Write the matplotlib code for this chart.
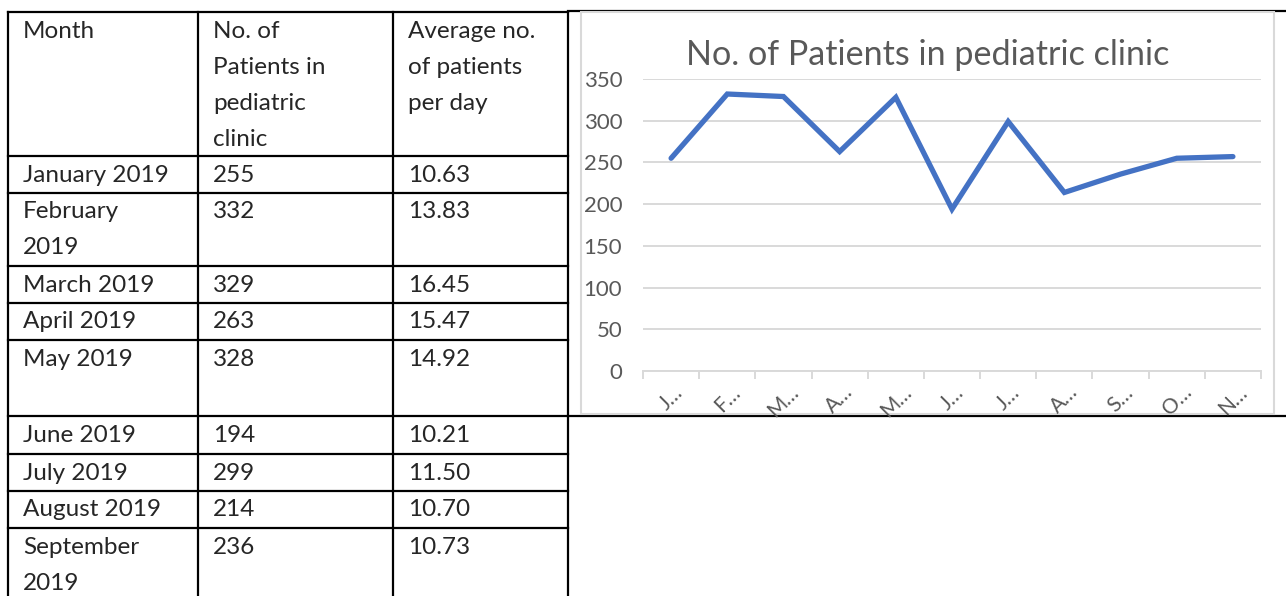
import matplotlib.pyplot as plt
from matplotlib.patches import Rectangle

# table contents (left part of the page)
headers = ["Month", "No. of\nPatients in\npediatric\nclinic", "Average no.\nof patients\nper day"]
months = ["January\u00a02019", "February\n2019", "March 2019", "April 2019", "May 2019",
          "June 2019", "July 2019", "August 2019", "September\n2019"]
patients = ["255", "332", "329", "263", "328", "194", "299", "214", "236"]
avg_per_day = ["10.63", "13.83", "16.45", "15.47", "14.92", "10.21", "11.50", "10.70", "10.73"]

# chart series
chart_months = ["Jan", "Feb", "Mar", "Apr", "May", "Jun", "Jul", "Aug", "Sep", "Oct", "Nov"]
chart_values = [255, 332, 329, 263, 328, 194, 299, 214, 236, 255, 257]

W, H = 1286, 596
fig = plt.figure(figsize=(W / 100, H / 100), dpi=100)
bg = fig.add_axes([0, 0, 1, 1])
bg.set_xlim(0, W)
bg.set_ylim(H, 0)
bg.axis("off")

font = ["Lato", "DejaVu Sans"]
col_x = [8, 198, 393, 568]
row_y = [12, 156, 193, 266, 303, 340, 416, 454, 491, 528, 596]

# grid of the table
for x in col_x:
    bg.plot([x, x], [row_y[0], H], color="black", lw=1.6, zorder=1)
for y in row_y[:-1]:
    bg.plot([col_x[0], col_x[-1]], [y, y], color="black", lw=1.6, zorder=1)
bg.plot([col_x[-1], W], [11, 11], color="black", lw=1.6, zorder=1)
bg.plot([col_x[-1], W], [416, 416], color="black", lw=1.6, zorder=1)

def cell(x, y, s):
    for i, line in enumerate(s.split("\n")):
        bg.text(x + 15, y + 19 + 36 * i, line, fontsize=17.5, family=font,
                va="center", ha="left", color="#262626")

for j, h in enumerate(headers):
    cell(col_x[j], row_y[0], h)
for i in range(len(months)):
    cell(col_x[0], row_y[i + 1], months[i])
    cell(col_x[1], row_y[i + 1], patients[i])
    cell(col_x[2], row_y[i + 1], avg_per_day[i])

# chart frame
bg.add_patch(Rectangle((581, 12), 1274 - 581, 414 - 12, facecolor="white",
                       edgecolor="#d9d9d9", lw=1.5, zorder=3))

gray = "#595959"
ax = fig.add_axes([643 / W, (H - 371) / H, (1261 - 643) / W, (371 - 79) / H])
ax.set_zorder(5)
ax.patch.set_alpha(0)
ax.plot(range(len(chart_values)), chart_values, color="#4472C4", lw=3.8,
        solid_joinstyle="miter", solid_capstyle="round", zorder=3)
ax.set_xlim(-0.5, len(chart_values) - 0.5)
ax.set_ylim(0, 350)
ax.set_yticks(range(0, 351, 50))
ax.grid(axis="y", color="#d9d9d9", lw=1.4)
ax.set_axisbelow(True)
for s in ["left", "right", "top"]:
    ax.spines[s].set_visible(False)
ax.spines["bottom"].set_color("#d9d9d9")
ax.spines["bottom"].set_linewidth(1.4)
ax.tick_params(axis="y", length=0, pad=15, labelsize=16, labelcolor=gray)
ax.set_xticks(range(len(chart_months)))
ax.set_xticklabels([m[0] + "\u2026" for m in chart_months], rotation=45,
                   ha="center", va="top", fontsize=15, color=gray)
ax.set_xticks([i - 0.5 for i in range(len(chart_months) + 1)], minor=True)
ax.tick_params(axis="x", which="major", length=0, pad=8)
ax.tick_params(axis="x", which="minor", length=6, color="#d9d9d9", width=1.4)
for t in ax.get_xticklabels() + ax.get_yticklabels():
    t.set_family(font)
bg.text(928, 55, "No. of Patients in pediatric clinic", fontsize=24.6, color=gray,
        family=font, ha="center", va="center", zorder=6)

fig.savefig("out.png", dpi=100)
